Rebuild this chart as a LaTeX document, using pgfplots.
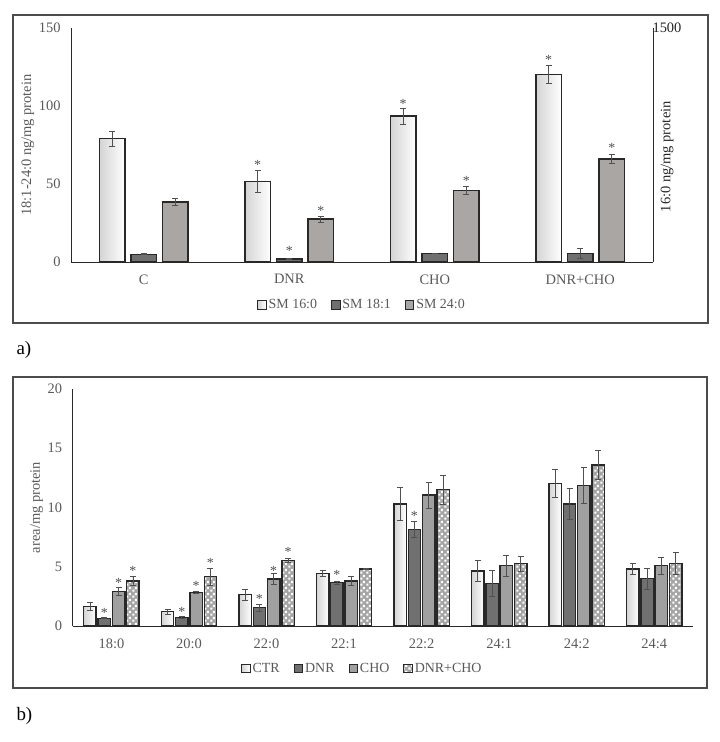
\documentclass[border=0pt]{standalone}
\usepackage{pgfplots}
\pgfplotsset{compat=1.18}
\usepackage{fontspec}
\setmainfont{Liberation Serif}
\usetikzlibrary{patterns,plotmarks}
\pgfdeclarepatternformonly{checks}{\pgfqpoint{0pt}{0pt}}{\pgfqpoint{6bp}{6bp}}{\pgfqpoint{6bp}{6bp}}{%
 \pgfpathrectangle{\pgfqpoint{0.4bp}{0.4bp}}{\pgfqpoint{2.4bp}{2.4bp}}%
 \pgfpathrectangle{\pgfqpoint{3.4bp}{3.4bp}}{\pgfqpoint{2.4bp}{2.4bp}}%
 \pgfusepath{fill}}
\definecolor{lab}{RGB}{89,89,89}
\definecolor{c181}{RGB}{112,112,112}
\definecolor{c240}{RGB}{170,166,164}
\definecolor{cho}{RGB}{160,160,160}
\definecolor{dc}{RGB}{165,165,165}
\definecolor{bedge}{RGB}{40,40,40}
\definecolor{errc}{RGB}{80,80,80}
\newcommand{\tfont}{\fontsize{14.5}{16}\selectfont}
\pgfplotsset{
 base/.style={scale only axis, axis x line*=bottom, axis y line*=left, ybar,
   major tick length=0pt, axis line style={bedge, line width=0.9bp},
   tick label style={font=\tfont, text=lab},
   /pgf/number format/assume math mode=true,
   yticklabel style={xshift=-7bp}, xticklabel style={yshift=-9bp},
   label style={font=\tfont, text=lab},
   legend style={draw=none, fill=none, legend columns=-1, font=\fontsize{14}{16}\selectfont, text=lab,
     anchor=center, /tikz/every even column/.append style={column sep=12bp}},
   legend image code/.code={\draw[##1, line width=0.9bp] (0bp,-4bp) rectangle (8.5bp,4.5bp);},
 },
 star/.style={only marks, mark=text, bar shift=0pt, text mark={\fontsize{14}{14}\selectfont\color{errc}*}, forget plot},
 bs/.style={draw=bedge, line width=1.4bp},
 ctrfill/.style={left color=black!17, right color=white},
 dcfill/.style={fill=dc, postaction={pattern=checks, pattern color=white}},
 errs/.style={error bars/.cd, y dir=both, y explicit, error bar style={errc, line width=0.8bp}, error mark options={errc, rotate=90, mark size=3bp, line width=0.8bp}},
}
\begin{document}
\begin{tikzpicture}
\useasboundingbox (0,0) rectangle (720bp,-742bp);
\draw[black!70, line width=1.2bp] (13bp,-15bp) rectangle (708bp,-323bp);
\draw[black!70, line width=1.2bp] (13bp,-377bp) rectangle (707bp,-688bp);
\node[anchor=west, font=\fontsize{19}{22}\selectfont] at (13bp,-350bp) {a)};
\node[anchor=west, font=\fontsize{19}{22}\selectfont] at (13bp,-716bp) {b)};

% ---------- panel a ----------
\begin{axis}[base, at={(71bp,-262bp)}, anchor=south west, width=582bp, height=234bp,
  xmin=-0.5, xmax=3.5, ymin=0, ymax=150, xtick={0,1,2,3},
  xticklabels={C,DNR,CHO,DNR+CHO}, ytick={0,50,100,150}, bar width=0.175,
  ylabel={18:1-24:0 ng/mg protein},
  ylabel style={at={(axis description cs:0,0.5)}, yshift=43bp, anchor=center},
  legend style={at={(0.5,-0.184)}}]
% SM 16:0 (one plot per bar so that each bar has its own shading)
\addplot[bar shift=-0.217, bs, ctrfill, errs] coordinates {(0,79) +- (0,4.7)};
\addlegendentry{SM 16:0}
\addplot[bar shift=-0.217, bs, ctrfill, forget plot, errs] coordinates {(1,51.5) +- (0,7)};
\addplot[bar shift=-0.217, bs, ctrfill, forget plot, errs] coordinates {(2,93.5) +- (0,5)};
\addplot[bar shift=-0.217, bs, ctrfill, forget plot, errs] coordinates {(3,120.3) +- (0,6)};
\addplot[bar shift=0, bs, fill=c181, errs] table[x=x,y=y,y error=e]{
x y e
0 5 0.4
1 2 0.4
2 5.5 0.2
3 5.5 3.5
};
\addlegendentry{SM 18:1}
\addplot[bar shift=0.217, bs, fill=c240, errs] table[x=x,y=y,y error=e]{
x y e
0 38.5 2
1 27.5 1.8
2 46 2.5
3 66 3
};
\addlegendentry{SM 24:0}
\addplot[star] table[x=x,y=y]{
x y
0.783 62.5
1.783 101.5
2.783 129.5
1 7.2
1.217 32.7
2.217 52
3.217 73.3
};
\end{axis}
\begin{axis}[scale only axis, at={(71bp,-262bp)}, anchor=south west, width=582bp, height=234bp,
  xmin=-0.5, xmax=3.5, ymin=0, ymax=1500, axis x line=none, axis y line*=right,
  ytick={1500}, yticklabels={1500}, major tick length=0pt,
  axis line style={bedge, line width=0.9bp},
  tick label style={font=\tfont, text=black!85}, yticklabel style={xshift=-4bp},
  ylabel={16:0 ng/mg protein},
  every axis y label/.style={at={(axis description cs:1,0.45)}, xshift=14bp, rotate=90, anchor=center, font=\tfont, text=black!85}]
\end{axis}

% ---------- panel b ----------
\begin{axis}[base, at={(72.7bp,-626bp)}, anchor=south west, width=620.3bp, height=237bp,
  xmin=-0.5, xmax=7.5, ymin=0, ymax=20, xtick={0,...,7},
  xticklabels={18:0,20:0,22:0,22:1,22:2,24:1,24:2,24:4}, ytick={0,5,10,15,20}, bar width=0.16,
  ylabel={area/mg protein},
  ylabel style={at={(axis description cs:0,0.5)}, yshift=36bp, anchor=center},
  legend style={at={(0.467,-0.181)}}]
% CTR (one plot per bar so that each bar has its own shading)
\addplot[bar shift=-0.277, bs, ctrfill, errs] coordinates {(0,1.63) +- (0,0.35)};
\addlegendentry{CTR}
\addplot[bar shift=-0.277, bs, ctrfill, forget plot, errs] coordinates {(1,1.2) +- (0,0.2)};
\addplot[bar shift=-0.277, bs, ctrfill, forget plot, errs] coordinates {(2,2.64) +- (0,0.45)};
\addplot[bar shift=-0.277, bs, ctrfill, forget plot, errs] coordinates {(3,4.44) +- (0,0.25)};
\addplot[bar shift=-0.277, bs, ctrfill, forget plot, errs] coordinates {(4,10.29) +- (0,1.4)};
\addplot[bar shift=-0.277, bs, ctrfill, forget plot, errs] coordinates {(5,4.64) +- (0,0.9)};
\addplot[bar shift=-0.277, bs, ctrfill, forget plot, errs] coordinates {(6,12.03) +- (0,1.2)};
\addplot[bar shift=-0.277, bs, ctrfill, forget plot, errs] coordinates {(7,4.8) +- (0,0.45)};
\addplot[bar shift=-0.092, bs, fill=c181, errs] table[x=x,y=y,y error=e]{
x y e
0 0.65 0.05
1 0.73 0.05
2 1.55 0.3
3 3.65 0.1
4 8.15 0.7
5 3.57 1.1
6 10.29 1.3
7 3.99 0.9
};
\addlegendentry{DNR}
\addplot[bar shift=0.092, bs, fill=cho, errs] table[x=x,y=y,y error=e]{
x y e
0 2.9 0.35
1 2.84 0.05
2 3.96 0.45
3 3.8 0.4
4 11.05 1.1
5 5.09 0.9
6 11.86 1.55
7 5.09 0.73
};
\addlegendentry{CHO}
\addplot[bar shift=0.277, bs, dcfill, errs] table[x=x,y=y,y error=e]{
x y e
0 3.8 0.4
1 4.16 0.7
2 5.54 0.15
3 4.8 0.05
4 11.5 1.25
5 5.26 0.65
6 13.58 1.25
7 5.26 0.92
};
\addlegendentry{DNR+CHO}
\addplot[star] table[x=x,y=y]{
x y
-0.092 1.12
0.908 1.2
1.908 2.25
2.908 4.3
3.908 9.3
0.092 3.65
1.092 3.37
2.092 4.64
0.277 4.64
1.277 5.29
2.277 6.21
};
\end{axis}
\end{tikzpicture}
\end{document}
